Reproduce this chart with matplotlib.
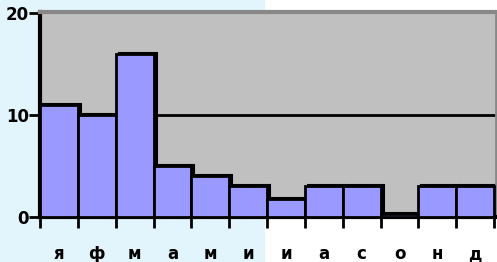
import numpy as np
import matplotlib
matplotlib.use('Agg')
from matplotlib import pyplot as plt
from matplotlib import transforms
from matplotlib.patches import Rectangle

months = ['я', 'ф', 'м', 'а', 'м', 'и', 'и', 'а', 'с', 'о', 'н', 'д']
values = [11, 10, 16, 5, 4, 3, 1.8, 3, 3, 0.3, 3, 3]
yticks = [0, 10, 20]

fig = plt.figure(figsize=(4.97, 2.62), dpi=100)
fig.patch.set_facecolor('#e2f4fc')
# white part of the page behind the chart on the right
fig.add_artist(Rectangle((265 / 497, 0), 1, 1, transform=fig.transFigure,
                         facecolor='white', edgecolor='none', zorder=-10))

ax = fig.add_axes([40 / 497, 45 / 262, 456 / 497, 205 / 262])
ax.set_facecolor('#c0c0c0')

x = np.arange(len(values))
shadow = transforms.offset_copy(ax.transData, fig=fig, x=3, y=1, units='dots')
ax.bar(x, values, width=1, align='edge', color='black', edgecolor='black',
       linewidth=1.5, transform=shadow, zorder=2)
ax.bar(x, values, width=1, align='edge', color='#9999ff', edgecolor='black',
       linewidth=2, zorder=3)
ax.axhline(10, color='black', lw=2, zorder=1)

ax.set_xlim(0, 12.05)
ax.set_ylim(0, 20.1)

ax.set_xticks(np.arange(13))
ax.set_xticklabels([])
ax.set_xticks(x + 0.5, minor=True)
ax.set_xticklabels(months, minor=True, fontsize=12, fontweight='bold')
ax.tick_params(axis='x', which='major', direction='out', length=8, width=2)
ax.tick_params(axis='x', which='minor', length=0, pad=20)

ax.set_yticks(yticks)
ax.set_yticklabels([str(v) for v in yticks], fontsize=12, fontweight='bold')
ax.tick_params(axis='y', direction='out', length=8, width=2, pad=0)

ax.spines['left'].set_linewidth(3)
ax.spines['bottom'].set_linewidth(3)
ax.spines['top'].set_color('#888888')
ax.spines['top'].set_linewidth(3)
ax.spines['right'].set_color('#888888')
ax.spines['right'].set_linewidth(2)

plt.savefig('out.png', dpi=100, facecolor=fig.get_facecolor())
